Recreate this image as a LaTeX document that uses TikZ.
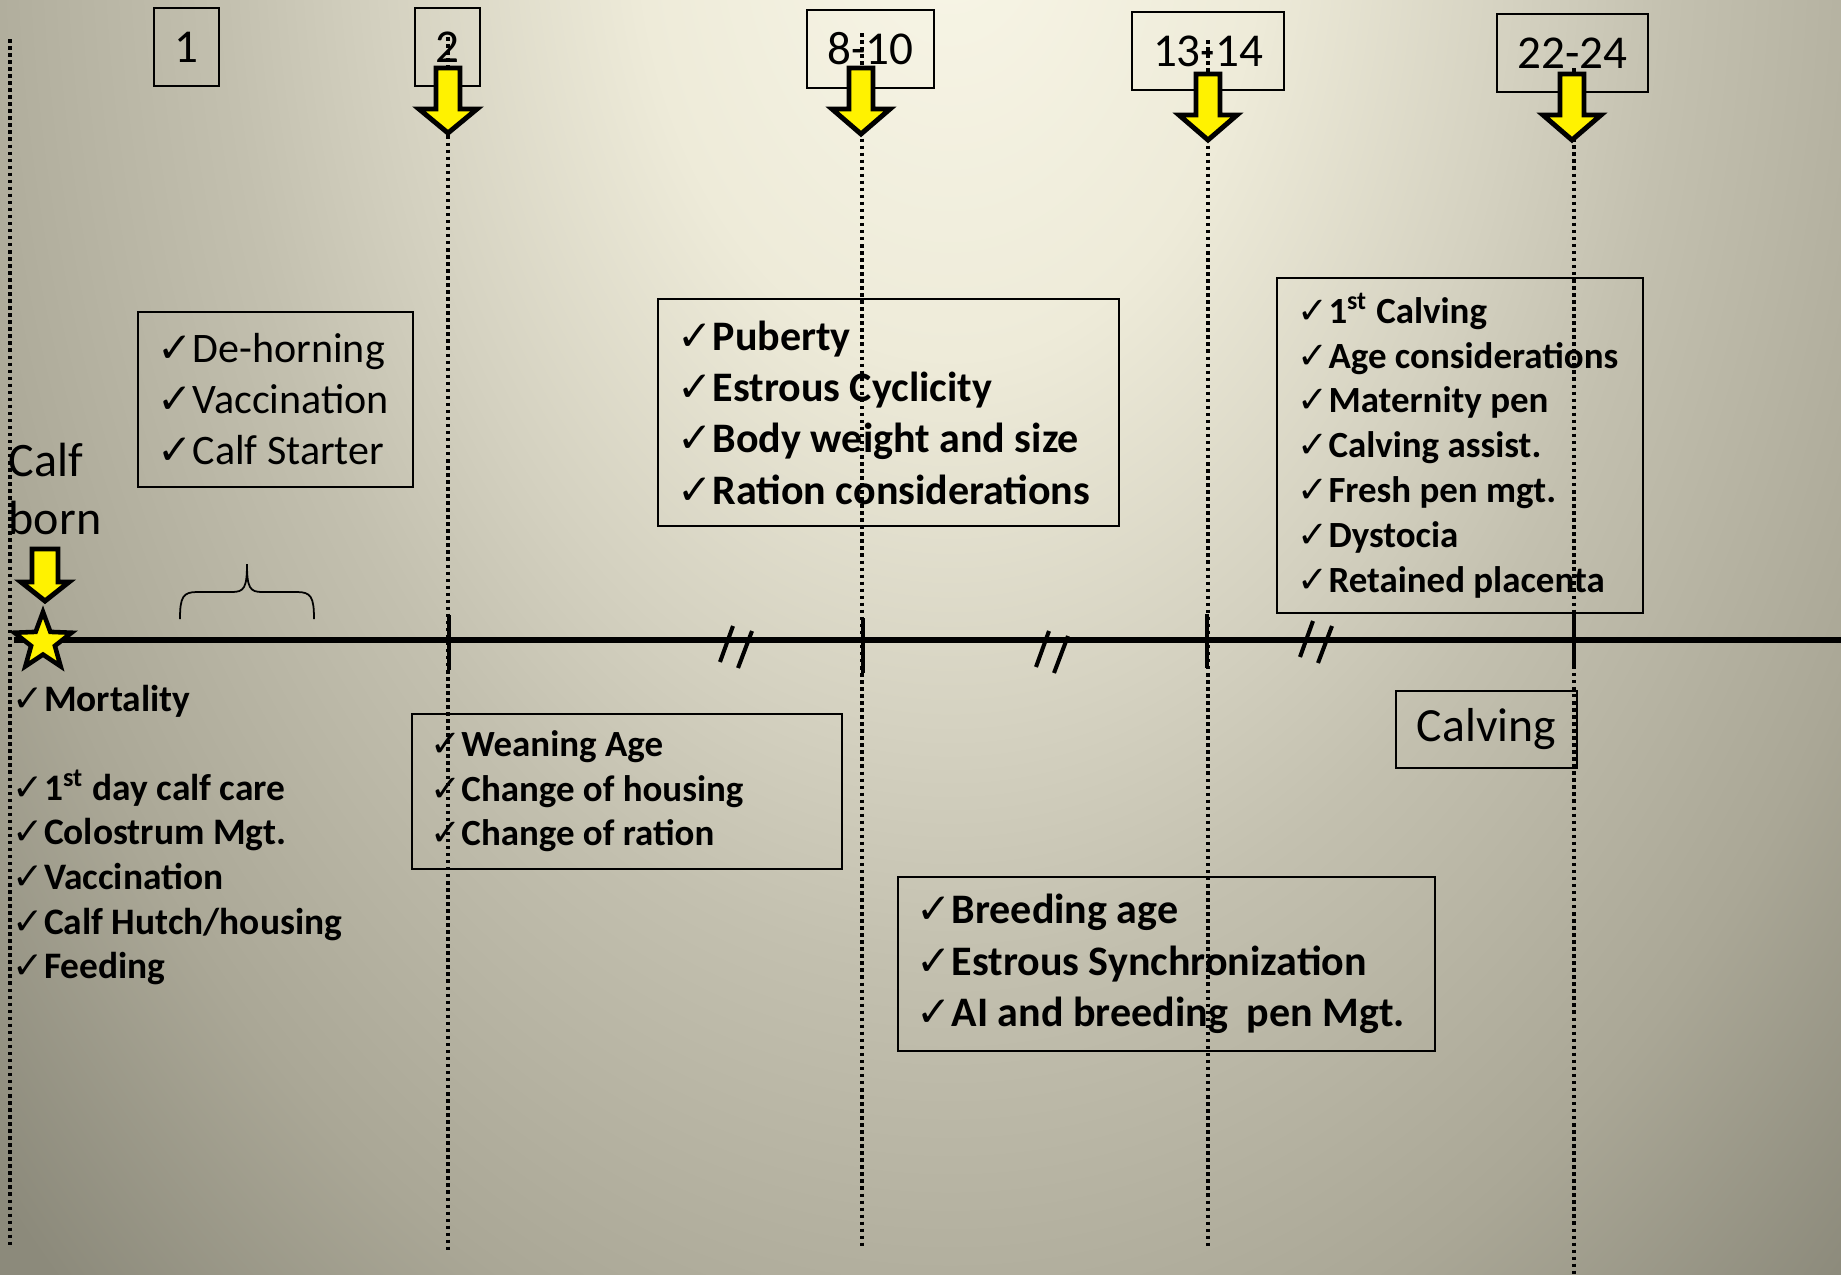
\documentclass[tikz,border=0pt]{standalone}
\usepackage{fontspec}
\usepackage{graphicx}
\setmainfont{Carlito}
\newfontfamily\chkfont{DejaVu Sans}
\usetikzlibrary{shapes.geometric}

\definecolor{bgA}{RGB}{248,246,231}
\definecolor{bgB}{RGB}{238,235,217}
\definecolor{bgC}{RGB}{212,209,192}
\definecolor{bgD}{RGB}{195,192,175}
\definecolor{bgE}{RGB}{170,167,150}
\definecolor{bgF}{RGB}{140,138,123}
\pgfdeclareradialshading{bgshade}{\pgfpoint{0bp}{0bp}}{color(0bp)=(bgA); color(6bp)=(bgB); color(11bp)=(bgC); color(14bp)=(bgD); color(20bp)=(bgE); color(25bp)=(bgF); color(50bp)=(bgF)}

\newcommand{\chk}{{\chkfont\mdseries ✓}}
\newcommand{\blockarrow}[6]{\draw[yarrow] ({#1-#6},#2) -- ({#1+#6},#2) -- ({#1+#6},#3) -- ({#1+#5},#3) -- (#1,#4) -- ({#1-#5},#3) -- ({#1-#6},#3) -- cycle;}
\newcommand{\brk}[2]{\draw[brkline] (#1,#2) -- ({#1+13},{#2-36}); \draw[brkline] ({#1+18},{#2+6}) -- ({#1+32},{#2-31});}

\begin{document}
\begin{tikzpicture}[x=0.01cm,y=-0.01cm,
    numbox/.style={draw,line width=0.6pt,inner sep=0pt,minimum height=0.78cm,font=\fontsize{13.4}{16}\selectfont},
    listbox/.style={draw,line width=0.6pt,inner sep=0pt},
    listtxt/.style={align=left,inner sep=0pt,anchor=west},
    yarrow/.style={fill=yellow,draw=black,line width=1.4pt,line join=miter},
    tline/.style={dash pattern=on 1pt off 1pt,line width=0.9pt},
    axisline/.style={line width=1.5pt},
    tickline/.style={line width=1.2pt},
    brkline/.style={line width=1.15pt}]
  \useasboundingbox (0,0) rectangle (1841,1275);
  \begin{scope}
    \clip (0,0) rectangle (1841,1275);
    \shade[shading=bgshade] (-350,-2000) rectangle (2250,1800);
  \end{scope}

  \node[listbox,minimum width=2.75cm,minimum height=1.75cm] (dehorn) at (275.5,399.5) {};
  \node[listtxt,font=\fontsize{11.95}{14.5}\selectfont] (dehorntxt) at ([xshift=0.2cm]dehorn.west)
    {\chk De-horning\\\chk Vaccination\\\chk Calf Starter};
  \node[listbox,minimum width=4.61cm,minimum height=2.27cm] (puberty) at (888.5,412.5) {};
  \node[listtxt,font=\bfseries\fontsize{11.95}{14.6}\selectfont] (pubertytxt) at ([xshift=0.2cm]puberty.west)
    {\chk Puberty\\\chk Estrous Cyclicity\\\chk Body weight and size\\\chk Ration considerations};
  \node[listbox,minimum width=3.66cm,minimum height=3.35cm] (firstcalf) at (1460,445.5) {};
  \node[listtxt,font=\bfseries\fontsize{10.5}{12.75}\selectfont] (firstcalftxt) at ([xshift=0.21cm]firstcalf.west)
    {\chk 1\textsuperscript{st} Calving\\\chk Age considerations\\\chk Maternity pen\\\chk Calving assist.\\\chk Fresh pen mgt.\\\chk Dystocia\\\chk Retained placenta};
  \node[listbox,minimum width=4.30cm,minimum height=1.55cm] (weaning) at (627,791.5) {};
  \node[listtxt,font=\bfseries\fontsize{10.5}{12.66}\selectfont] (weaningtxt) at ([xshift=0.19cm]weaning.west)
    {\chk Weaning Age\\\chk Change of housing\\\chk Change of ration};
  \node[listbox,minimum width=5.37cm,minimum height=1.74cm] (breeding) at (1166.5,964) {};
  \node[listtxt,font=\bfseries\fontsize{11.95}{14.65}\selectfont] (breedingtxt) at ([xshift=0.19cm]breeding.west)
    {\chk Breeding age\\\chk Estrous Synchronization\\\chk AI and breeding\ \ pen Mgt.};
  \node[listbox,minimum width=1.81cm,minimum height=0.77cm,font=\fontsize{13.55}{16}\selectfont] (calving) at (1486.5,729.5) {Calving};
  \node[listtxt,font=\bfseries\fontsize{10.64}{12.66}\selectfont] (calfcare) at (12,835)
    {\chk Mortality\\[12.66pt]\chk 1\textsuperscript{st} day calf care\\\chk Colostrum Mgt.\\\chk Vaccination\\\chk Calf Hutch/housing\\\chk Feeding};
  \node[listtxt,font=\fontsize{13.66}{16.65}\selectfont] (calfborn) at (8,489) {Calf\\born};

  \node[numbox,minimum width=0.65cm] (m1) at (186.5,47) {1};
  \node[numbox,minimum width=0.65cm] (m2) at (447.5,47) {2};
  \node[numbox,minimum width=1.27cm] (m810) at (870.5,49) {8-10};
  \node[numbox,minimum width=1.52cm] (m1314) at (1208,51) {13-14};
  \node[numbox,minimum width=1.51cm] (m2224) at (1572.5,53) {22-24};

  \foreach \x/\a/\b in {10/39/1247,448/37/1250,862/33/1247,1208/40/1248,1574/68/1275}
    \draw[tline] (\x,\a) -- (\x,\b);

  \draw[axisline] (14,640) -- (1841,640);
  \foreach \x/\a/\b in {449/615/670,863/618/673,1207/614/668,1574/614/668}
    \draw[tickline] (\x,\a) -- (\x,\b);
  \brk{720}{662}
  \brk{1036}{667}
  \brk{1300}{657}

  \draw[line width=0.5pt] (180,619) .. controls (180,597) and (183,592) .. (197,592) -- (232,592)
    .. controls (244,592) and (247,588) .. (247,564) .. controls (247,588) and (250,592) .. (262,592)
    -- (297,592) .. controls (311,592) and (314,597) .. (314,619);

  \node[star,star points=5,star point ratio=2.4,minimum size=0.6cm,inner sep=0pt,fill=yellow,draw,line width=1.3pt,line join=miter] (born) at (43,642) {};

  \blockarrow{45}{549}{582}{601}{24}{13}
  \blockarrow{448}{68}{109}{133}{29}{12}
  \blockarrow{861}{68}{109}{134}{29}{12}
  \blockarrow{1208}{74}{115}{140}{29}{12}
  \blockarrow{1572}{74}{115}{140}{29}{12}
\end{tikzpicture}
\end{document}
